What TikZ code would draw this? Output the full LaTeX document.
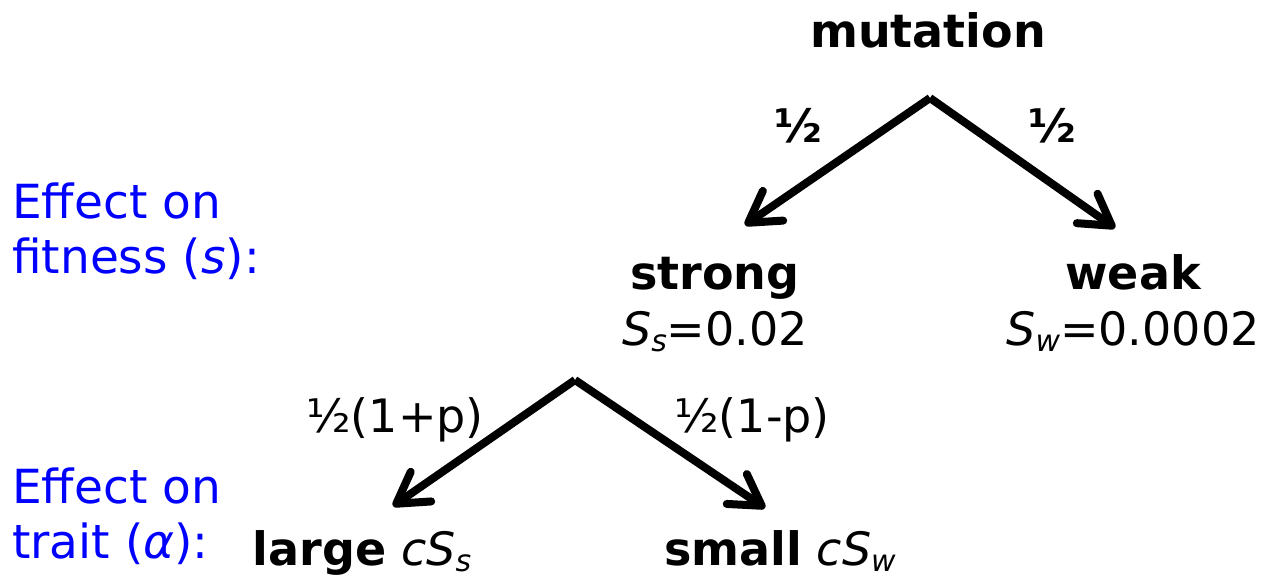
\documentclass[tikz,border=0pt]{standalone}
\usepackage{fontspec}
\setmainfont{DejaVu Sans}
\usetikzlibrary{arrows.meta,positioning}

\newcommand{\lowsub}[1]{\raisebox{-0.14em}{\fontsize{30}{32}\selectfont\itshape #1}}

\begin{document}
\begin{tikzpicture}[
  x=1pt,y=-1pt,
  node distance=12pt,
  word/.style={inner sep=0pt,anchor=base,font=\fontsize{46}{55}\selectfont},
  kind/.style={word,font=\fontsize{46}{55}\selectfont\bfseries},
  effect/.style={word,anchor=base west,blue,align=left,font=\fontsize{47}{55}\selectfont},
  branch/.style={line width=8pt,-{Straight Barb[length=30pt,width=36pt,line width=8pt,round]}}
]
  \useasboundingbox (0,0) rectangle (1268,580);

  \node[kind] (mutation) at (928,48) {mutation};
  \node[kind] (strong) at (715,289) {strong};
  \node[word] (sval) at (715,345) {\textit{S}\lowsub{s}=0.02};
  \node[kind] (weak) at (1133,289) {weak};
  \node[word] (wval) at (1133,345) {\textit{S}\lowsub{w}=0.0002};
  \node[word] (large) at (362,565) {\textbf{large} \textit{cS}\lowsub{s}};
  \node[word] (small) at (780,565) {\textbf{small} \textit{cS}\lowsub{w}};

  \node[effect] (fitness) at (12,273) {Effect on\\fitness (\textit{s}):};
  \node[effect] (trait) at (12,558) {Effect on\\trait (\textit{α}):};

  \coordinate (top) at (930,98);
  \coordinate (toL) at (745,225);
  \coordinate (toR) at (1115,228);
  \coordinate (split) at (575,380);
  \coordinate (toLL) at (393,506);
  \coordinate (toSR) at (765,508);

  \draw[branch] (top) -- (toL);
  \draw[branch] (top) -- (toR);
  \draw[branch] (split) -- (toLL);
  \draw[branch] (split) -- (toSR);

  \node[kind] (halfL) at (798,143) {½};
  \node[kind] (halfR) at (1052,143) {½};
  \node[word] (plus) at (395,432) {½(1+p)};
  \node[word] (minus) at (752,432) {½(1-p)};
\end{tikzpicture}
\end{document}
